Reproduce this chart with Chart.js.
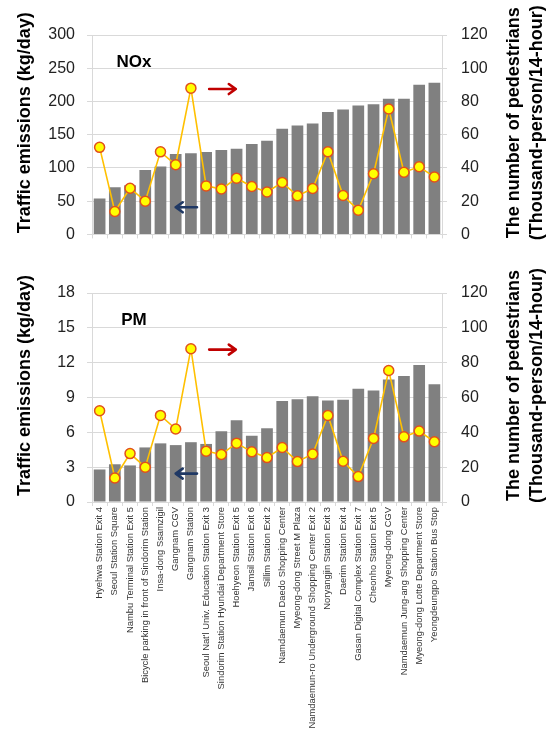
<!DOCTYPE html>
<html>
<head>
<meta charset="utf-8">
<script src="https://cdn.jsdelivr.net/npm/chart.js@4.4.1/dist/chart.umd.min.js"></script>
<style>
  html, body { margin: 0; padding: 0; background: #fff; }
  #wrap { position: relative; width: 547px; height: 736px; }
  canvas { position: absolute; left: 0; }
  #noxChart { top: 0; }
  #pmChart { top: 258px; }
</style>
</head>
<body>
<div id="wrap">
  <canvas id="noxChart" width="547" height="258"></canvas>
  <canvas id="pmChart" width="547" height="478"></canvas>
</div>
<script>
// --- Data ---
const sites = [
  'Hyehwa Station Exit 4',
  'Seoul Station Square',
  'Nambu Terminal Station Exit 5',
  'Bicycle parking in front of Sindorim Station',
  'Insa-dong Ssamzigil',
  'Gangnam CGV',
  'Gangnam Station',
  "Seoul Nat'l Univ. Education Station Exit 3",
  'Sindorim Station Hyundai Department Store',
  'Hoehyeon Station Exit 5',
  'Jamsil Station Exit 6',
  'Sillim Station Exit 2',
  'Namdaemun Daedo Shopping Center',
  'Myeong-dong Street M Plaza',
  'Namdaemun-ro Underground Shopping Center Exit 2',
  'Noryangjin Station Exit 3',
  'Daerim Station Exit 4',
  'Gasan Digital Complex Station Exit 7',
  'Cheonho Station Exit 5',
  'Myeong-dong CGV',
  'Namdaemun Jung-ang Shopping Center',
  'Myeong-dong Lotte Department Store',
  'Yeongdeungpo Station Bus Stop'
];

// traffic emissions, kg/day
const noxEmissions = [54, 71, 74, 97, 102, 121, 122, 124, 127, 129, 136, 141, 159, 164, 167, 184, 188, 194, 196, 204, 204, 225, 228];
const pmEmissions = [2.8, 3.25, 3.15, 4.7, 5.05, 4.9, 5.15, 5.0, 6.1, 7.05, 5.7, 6.35, 8.7, 8.85, 9.1, 8.75, 8.8, 9.75, 9.6, 10.55, 10.85, 11.8, 10.15];

// pedestrians, thousand persons / 14 h
const pedestrians = [52.4, 13.8, 27.8, 20.0, 49.7, 41.9, 88.0, 29.2, 27.3, 33.8, 28.8, 25.5, 31.3, 23.2, 27.6, 49.7, 23.4, 14.6, 36.5, 75.5, 37.4, 40.7, 34.6];

const FONT = '"Liberation Sans", Arial, sans-serif';
const GRID = '#d9d9d9';

// --- Helpers ---
function drawArrow(ctx, x1, x2, y, color) {
  const d = x2 > x1 ? -1 : 1;
  ctx.save();
  ctx.strokeStyle = color;
  ctx.lineWidth = 2.6;
  ctx.lineCap = 'round';
  ctx.lineJoin = 'round';
  ctx.beginPath();
  ctx.moveTo(x1, y);
  ctx.lineTo(x2, y);
  ctx.moveTo(x2 + d * 7, y - 5);
  ctx.lineTo(x2, y);
  ctx.lineTo(x2 + d * 7, y + 5);
  ctx.stroke();
  ctx.restore();
}

// titles, pollutant label and the two arrows
const decorations = {
  id: 'decorations',
  afterDraw(chart, args, opts) {
    const { ctx, chartArea: a, scales } = chart;
    ctx.save();
    ctx.fillStyle = '#000';
    ctx.textBaseline = 'middle';
    ctx.textAlign = 'center';
    ctx.font = 'bold 17px ' + FONT;
    ctx.fillText(opts.label, a.left + 42, a.top + 27.5);

    const cy = (a.top + a.bottom) / 2 - 12;
    ctx.font = 'bold 18px ' + FONT;
    [[25, 'Traffic emissions (kg/day)'],
     [514, 'The number of pedestrians'],
     [537, '(Thousand-person/14-hour)']].forEach(([x, t]) => {
      ctx.save();
      ctx.translate(x, cy);
      ctx.rotate(-Math.PI / 2);
      ctx.fillText(t, 0, 0);
      ctx.restore();
    });
    ctx.restore();

    const x = scales.x, yr = scales.y1;
    drawArrow(ctx, x.getPixelForValue(7.2), x.getPixelForValue(8.95), yr.getPixelForValue(87.5), '#c00000');
    drawArrow(ctx, x.getPixelForValue(6.4), x.getPixelForValue(5.0), yr.getPixelForValue(16.3), '#1f3864');
  }
};

function makeChart(canvasId, label, emissions, maxLeft, stepLeft, showLabels, xHeight) {
  const ctx = document.getElementById(canvasId).getContext('2d');
  return new Chart(ctx, {
    type: 'bar',
    data: {
      labels: sites,
      datasets: [
        {
          type: 'line',
          label: 'Pedestrians',
          data: pedestrians,
          yAxisID: 'y1',
          order: 0,
          borderColor: '#ffc000',
          borderWidth: 1.6,
          pointRadius: 5,
          pointBackgroundColor: '#ffff00',
          pointBorderColor: '#e2501c',
          pointBorderWidth: 1.5,
          tension: 0
        },
        {
          label: label,
          data: emissions,
          yAxisID: 'y',
          order: 1,
          backgroundColor: '#808080',
          barPercentage: 0.77,
          categoryPercentage: 1
        }
      ]
    },
    options: {
      responsive: false,
      animation: false,
      devicePixelRatio: 1,
      layout: { padding: { top: 35, left: 0, right: 0, bottom: 0 } },
      plugins: {
        legend: { display: false },
        tooltip: { enabled: false },
        decorations: { label: label }
      },
      scales: {
        x: {
          offset: true,
          grid: { display: true, drawOnChartArea: false, color: GRID, tickLength: 4, offset: true },
          border: { color: GRID },
          ticks: {
            display: showLabels,
            autoSkip: false,
            minRotation: 90,
            maxRotation: 90,
            padding: 1,
            color: '#333',
            font: { family: FONT, size: 9.4 }
          },
          afterFit: s => { s.height = xHeight; }
        },
        y: {
          position: 'left',
          min: 0,
          max: maxLeft,
          ticks: { stepSize: stepLeft, padding: 12, color: '#222', font: { family: FONT, size: 16 } },
          grid: { color: GRID, tickLength: 5 },
          border: { color: GRID },
          afterFit: s => { s.width = 92; }
        },
        y1: {
          position: 'right',
          min: 0,
          max: 120,
          ticks: { stepSize: 20, padding: 14, color: '#222', font: { family: FONT, size: 16 } },
          grid: { drawOnChartArea: false, color: GRID, tickLength: 5 },
          border: { color: GRID },
          afterFit: s => { s.width = 105; }
        }
      }
    },
    plugins: [decorations]
  });
}

makeChart('noxChart', 'NOx', noxEmissions, 300, 50, false, 15);
makeChart('pmChart', 'PM', pmEmissions, 18, 3, true, 234);
</script>
</body>
</html>
